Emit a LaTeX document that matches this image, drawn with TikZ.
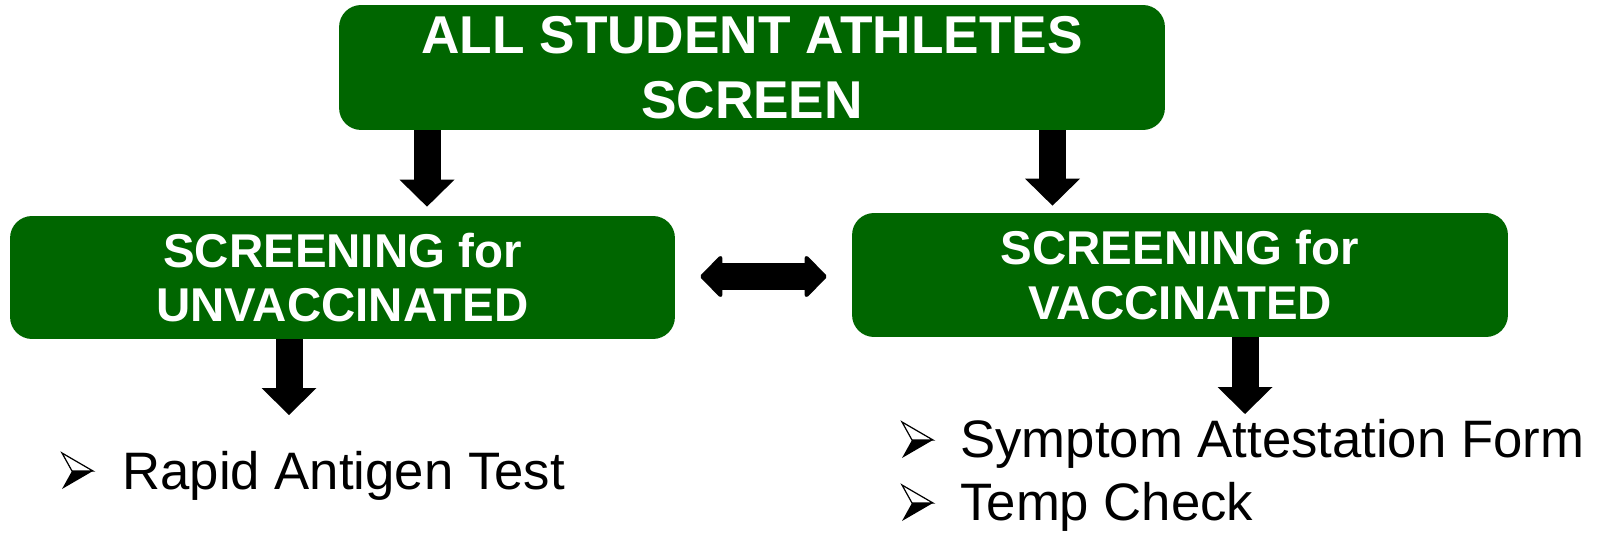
\documentclass[tikz,border=0pt]{standalone}
\usepackage{fontspec}
\setmainfont{Liberation Sans}
\usetikzlibrary{arrows.meta,calc}
\definecolor{boxgreen}{RGB}{0,102,0}
\begin{document}
\begin{tikzpicture}[x=0.02cm,y=-0.02cm,
  box/.style={draw=none,fill=boxgreen,rounded corners=0.44cm,inner sep=0pt,text=white,align=center},
  blockarrow/.style={line width=0.54cm,-{Triangle[length=0.54cm,width=1.1cm,line width=0pt]}},
  dblarrow/.style={line width=0.56cm,{Triangle[length=0.46cm,width=0.92cm,line width=0.08cm,round]}-{Triangle[length=0.46cm,width=0.92cm,line width=0.08cm,round]}},
  bullettext/.style={anchor=base west,inner sep=0pt,font=\fontsize{30}{34}\selectfont},
  bul/.pic={
    \fill (0,0) -- (31,-18) -- (10,-18) -- cycle;
    \draw[line width=0.7pt,line join=miter] (0,-36) -- (31,-18) -- (10,-18) -- cycle;
  }
]
\useasboundingbox (0,0) rectangle (1598,533);

\node[box,minimum width=16.52cm,minimum height=2.5cm,font=\fontsize{30.3}{36.8}\selectfont\bfseries] (top) at (752,67.5) {ALL STUDENT ATHLETES\\SCREEN};
\node[box,minimum width=13.3cm,minimum height=2.46cm,font=\fontsize{27}{31.2}\selectfont\bfseries] (left) at (342.5,277.5) {SCREENING for\\UNVACCINATED};
\node[box,minimum width=13.12cm,minimum height=2.48cm,font=\fontsize{27}{31.2}\selectfont\bfseries] (right) at (1180,275) {SCREENING for\\VACCINATED};

\coordinate (x1) at (427,0);
\coordinate (x2) at (1052.5,0);
\coordinate (x3) at (289,0);
\coordinate (x4) at (1245,0);

\draw[blockarrow] (top.south -| x1) -- ($(left.north -| x1)+(0,-9)$);
\draw[blockarrow] (top.south -| x2) -- ($(right.north -| x2)+(0,-7)$);
\coordinate (e3) at (289,415);
\coordinate (e4) at (1245,414);
\draw[blockarrow] (left.south -| x3) -- (e3);
\draw[blockarrow] (right.south -| x4) -- (e4);

\draw[dblarrow] ($(left.east)+(25,-1)$) -- ($(right.west |- left.east)+(-25,-1)$);

\pic at (62,489) {bul};
\node[bullettext] (t1) at (122,489) {Rapid Antigen Test};
\pic at (902,458) {bul};
\node[bullettext] (t2) at (960,457) {Symptom Attestation Form};
\pic at (902,521) {bul};
\node[bullettext] (t3) at (960,520) {Temp Check};
\end{tikzpicture}
\end{document}
